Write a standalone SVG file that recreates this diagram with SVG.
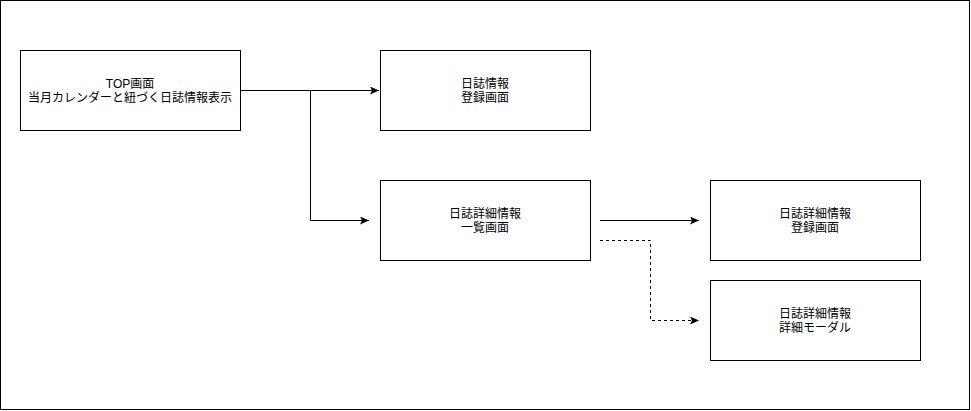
<svg xmlns="http://www.w3.org/2000/svg" width="971" height="411" viewBox="0 0 971 411">
<defs>
<style>
.box{fill:#fff;stroke:#000;stroke-width:1}
.t{font-family:"Liberation Sans","Noto Sans CJK JP",sans-serif;font-size:12px;fill:#000;text-anchor:middle}
.c{fill:none;stroke:#000;stroke-width:1}
.d{stroke-dasharray:3 3}
</style>
<marker id="ar" markerWidth="10" markerHeight="8" refX="9" refY="4" orient="auto" markerUnits="userSpaceOnUse">
<path d="M0,0 L9,4 L0,8 L2,4 Z" fill="#000"/>
</marker>
</defs>
<rect x="0.5" y="0.5" width="969" height="409" fill="#fff" stroke="#000"/>
<g id="connectors">
<path class="c" d="M240.5,90.5 H379" marker-end="url(#ar)"/>
<path class="c" d="M310.5,90.5 V220.5 H369" marker-end="url(#ar)"/>
<path class="c" d="M600,220.5 H699" marker-end="url(#ar)"/>
<path class="c d" d="M600,240.5 H650.5 V320.5 H699" marker-end="url(#ar)"/>
</g>
<g id="top">
<rect class="box" x="20.5" y="50.5" width="220" height="80"/>
<text class="t" x="130" y="88">TOP画面</text>
<text class="t" x="130" y="102">当月カレンダーと紐づく日誌情報表示</text>
</g>
<g id="nisshi-touroku">
<rect class="box" x="380.5" y="50.5" width="210" height="80"/>
<text class="t" x="485" y="88">日誌情報</text>
<text class="t" x="485" y="102">登録画面</text>
</g>
<g id="shousai-ichiran">
<rect class="box" x="380.5" y="180.5" width="210" height="80"/>
<text class="t" x="485" y="218">日誌詳細情報</text>
<text class="t" x="485" y="232">一覧画面</text>
</g>
<g id="shousai-touroku">
<rect class="box" x="710.5" y="180.5" width="210" height="80"/>
<text class="t" x="815" y="218">日誌詳細情報</text>
<text class="t" x="815" y="232">登録画面</text>
</g>
<g id="shousai-modal">
<rect class="box" x="710.5" y="280.5" width="210" height="80"/>
<text class="t" x="815" y="318">日誌詳細情報</text>
<text class="t" x="815" y="332">詳細モーダル</text>
</g>
</svg>
